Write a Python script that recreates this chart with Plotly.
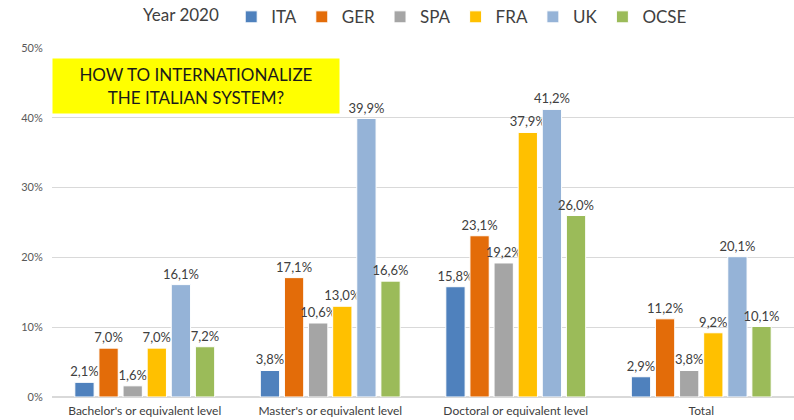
import plotly.graph_objects as go

categories = ["Bachelor's or equivalent level", "Master's or equivalent level",
              "Doctoral or equivalent level", "Total"]
series_names = ["ITA", "GER", "SPA", "FRA", "UK", "OCSE"]
ita = [2.1, 3.8, 15.8, 2.9]
ger = [7.0, 17.1, 23.1, 11.2]
spa = [1.6, 10.6, 19.2, 3.8]
fra = [7.0, 13.0, 37.9, 9.2]
uk = [16.1, 39.9, 41.2, 20.1]
ocse = [7.2, 16.6, 26.0, 10.1]
series_values = [ita, ger, spa, fra, uk, ocse]
colors = ["#4F81BD", "#E36C09", "#A5A5A5", "#FFC000", "#95B3D7", "#9BBB59"]
y_ticks = [0, 10, 20, 30, 40, 50]
y_tick_labels = ["0%", "10%", "20%", "30%", "40%", "50%"]

font = "Lato, Open Sans, sans-serif"

fig = go.Figure()
for name, vals, col in zip(series_names, series_values, colors):
    fig.add_trace(go.Bar(
        x=categories, y=vals, name=name,
        marker=dict(color=col, line=dict(color="white", width=1)),
        texttemplate="%{y:.1f}%", textposition="outside",
        constraintext="none",
        textfont=dict(size=13, color="#404040", family=font),
        cliponaxis=False,
    ))

fig.update_layout(
    width=794, height=420,
    margin=dict(l=52, r=0, t=48, b=23, autoexpand=False),
    paper_bgcolor="white", plot_bgcolor="white",
    separators=",.",
    barmode="group", bargap=0.22, bargroupgap=0.2,
    font=dict(family=font, color="#404040"),
    legend=dict(
        orientation="h", x=0.12, xanchor="left", y=1.088, yanchor="middle",
        title=dict(text="Year 2020 ", font=dict(size=17, color="#404040")),
        font=dict(size=17, color="#404040"),
        itemwidth=30, tracegroupgap=0,
    ),
    yaxis=dict(range=[0, 50], tickvals=y_ticks, ticktext=y_tick_labels,
               showgrid=True, gridcolor="#D9D9D9", gridwidth=1,
               zeroline=True, zerolinecolor="#D9D9D9", automargin=False,
               tickfont=dict(size=11, color="#595959"),
               ticks="outside", ticklen=6, tickcolor="rgba(0,0,0,0)"),
    xaxis=dict(tickfont=dict(size=12, color="#404040"), showline=False,
               automargin=False, ticks="outside", ticklen=3,
               tickcolor="rgba(0,0,0,0)"),
)

fig.add_annotation(
    xref="paper", yref="paper", x=0.0, y=0.97, xanchor="left", yanchor="top",
    text="HOW TO INTERNATIONALIZE<br>THE ITALIAN SYSTEM?",
    showarrow=False, bgcolor="#FFFF00", width=284, height=52,
    font=dict(size=17, color="#1A1A1A", family=font), align="center",
)

fig.write_html("out.html", config={"displayModeBar": False},
               post_script="document.body.style.margin='0';document.body.style.overflow='hidden';")
